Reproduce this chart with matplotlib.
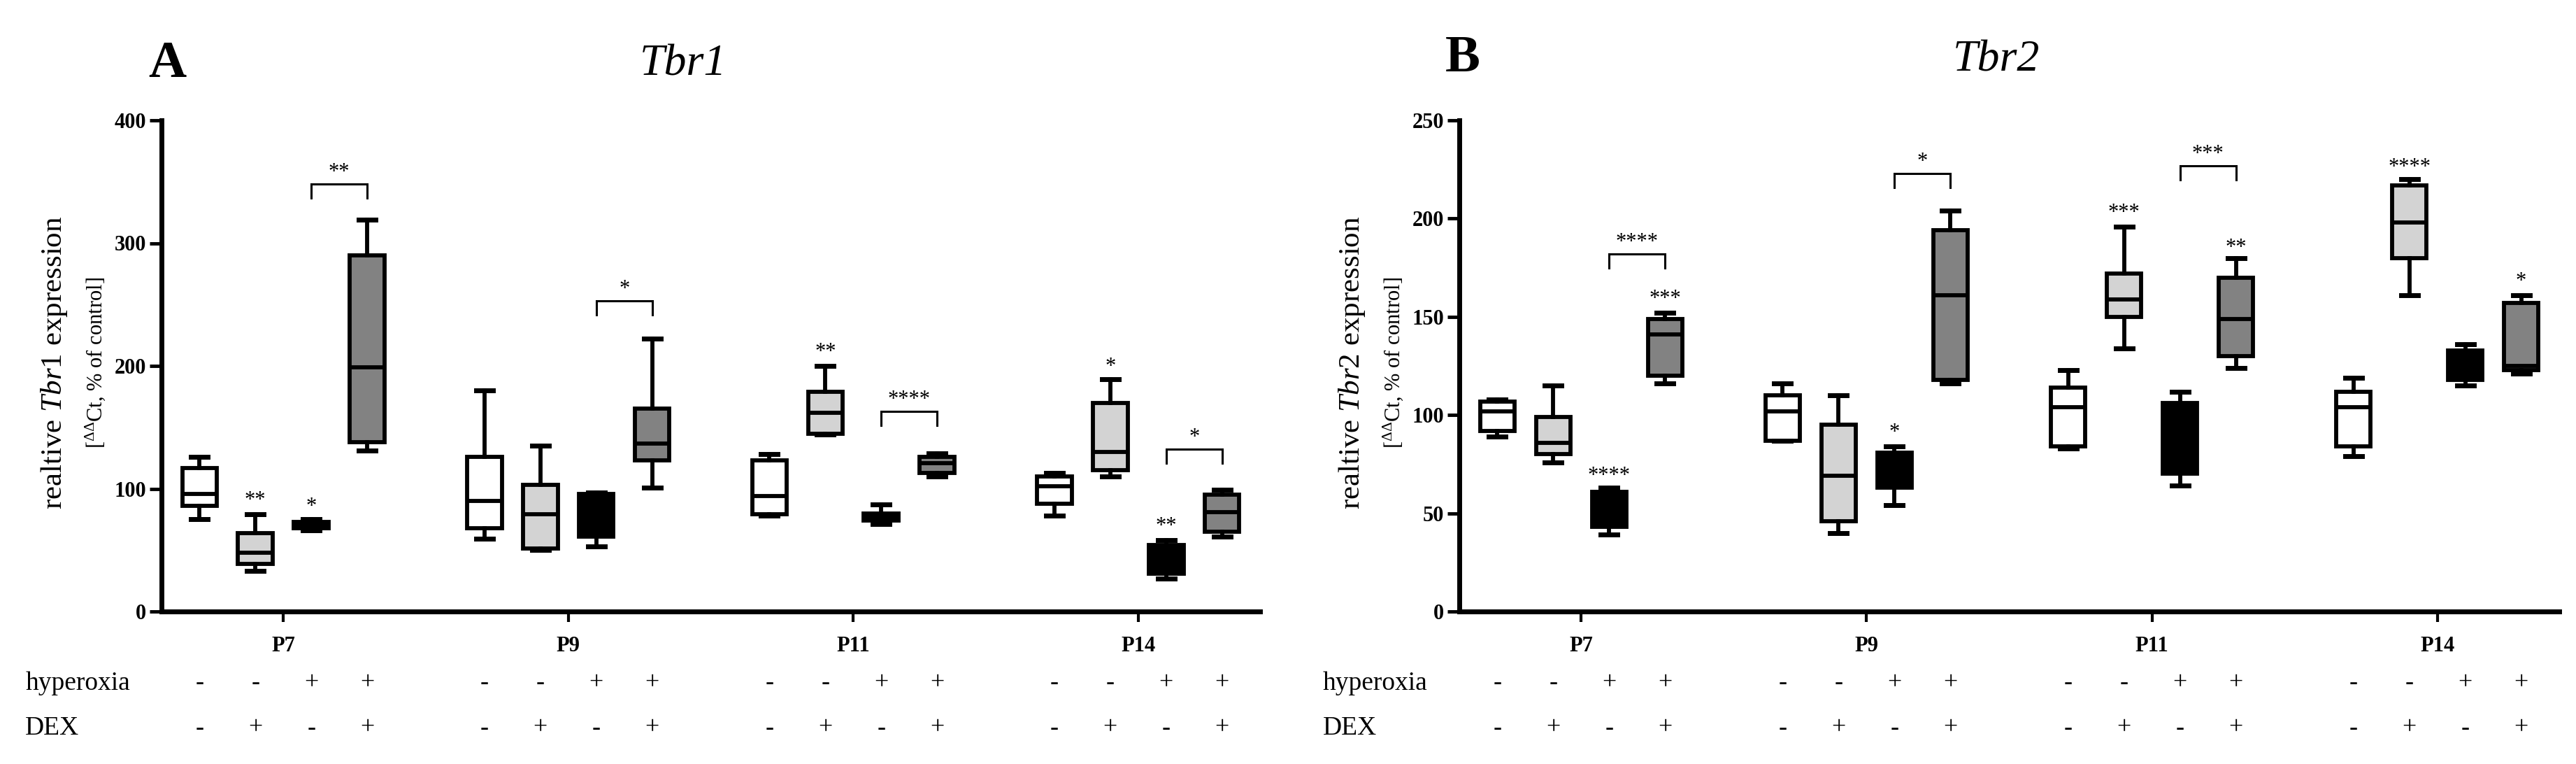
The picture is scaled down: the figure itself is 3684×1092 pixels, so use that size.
import matplotlib.pyplot as plt

plt.rcParams['font.family'] = ['Liberation Serif', 'DejaVu Serif']
plt.rcParams['mathtext.fontset'] = 'custom'
plt.rcParams['mathtext.rm'] = 'Liberation Serif'
plt.rcParams['mathtext.it'] = 'Liberation Serif:italic'
plt.rcParams['mathtext.bf'] = 'Liberation Serif:bold'

groups = ['P7', 'P9', 'P11', 'P14']
hyperoxia = ['-', '-', '+', '+']
dex = ['-', '+', '-', '+']
box_colors = ['white', '#d3d3d3', 'black', '#828282']

# per group: control, DEX, hyperoxia, hyperoxia + DEX
tbr1_low = [75, 33, 66, 131, 59, 50, 53, 101, 78, 144, 71, 110, 78, 110, 27, 61]
tbr1_q1 = [86, 39, 68, 138, 68, 51, 61, 123, 79, 145, 74, 113, 88, 115, 31, 65]
tbr1_med = [96, 48, 71, 199, 90, 79, 88, 137, 94, 162, 77, 121, 102, 130, 38, 81]
tbr1_q3 = [117, 64, 73, 290, 126, 103, 96, 165, 123, 179, 80, 126, 110, 170, 54, 95]
tbr1_high = [126, 79, 75, 319, 180, 135, 97, 222, 128, 200, 87, 129, 113, 189, 58, 99]

tbr2_low = [89, 76, 39, 116, 87, 40, 54, 116, 83, 134, 64, 124, 79, 161, 115, 121]
tbr2_q1 = [92, 80, 43, 120, 87, 46, 63, 118, 84, 150, 70, 130, 84, 180, 118, 123]
tbr2_med = [102, 86, 50, 141, 102, 69, 72, 161, 104, 159, 90, 149, 104, 198, 125, 125]
tbr2_q3 = [107, 99, 61, 149, 110, 95, 81, 194, 114, 172, 106, 170, 112, 217, 133, 157]
tbr2_high = [108, 115, 63, 152, 116, 110, 84, 204, 123, 196, 112, 180, 119, 220, 136, 161]

# significance marks: (group, box, text, value)
tbr1_stars = [(0, 1, '**', 95), (0, 2, '*', 90), (2, 1, '**', 216), (3, 1, '*', 204), (3, 2, '**', 74)]
tbr1_brackets = [(0, 2, 3, 348, '**'), (1, 2, 3, 253, '*'), (2, 2, 3, 163, '****'), (3, 2, 3, 132, '*')]
tbr2_stars = [(0, 2, '****', 72), (0, 3, '***', 162), (1, 2, '*', 94), (2, 1, '***', 206),
              (2, 3, '**', 188), (3, 1, '****', 229), (3, 3, '*', 171)]
tbr2_brackets = [(0, 2, 3, 182, '****'), (1, 2, 3, 223, '*'), (2, 2, 3, 227, '***')]

W, H = 3684, 1092
GAP = 5.1
fig = plt.figure(figsize=(W / 100, H / 100), dpi=100)


def add_axes_px(left, right, bottom, top):
    return fig.add_axes([left / W, 1 - bottom / H, (right - left) / W, (bottom - top) / H])


def draw_panel(ax, low, q1, med, q3, high, ymax, ystep, gene, stars, brackets):
    pos = [g * GAP + k for g in range(4) for k in range(4)]
    stats = [dict(whislo=a, q1=b, med=c, q3=d, whishi=e, fliers=[])
             for a, b, c, d, e in zip(low, q1, med, q3, high)]
    bp = ax.bxp(stats, positions=pos, widths=0.62, capwidths=0.3, showfliers=False,
                patch_artist=True,
                boxprops=dict(linewidth=4.2, edgecolor='black'),
                medianprops=dict(color='black', linewidth=4.2),
                whiskerprops=dict(color='black', linewidth=4.2),
                capprops=dict(color='black', linewidth=5))
    for patch, c in zip(bp['boxes'], box_colors * 4):
        patch.set_facecolor(c)

    ax.set_xlim(-0.68, 3 * GAP + 3 + 0.68)
    ax.set_ylim(0, ymax)
    ax.spines[['top', 'right']].set_visible(False)
    for s in ['left', 'bottom']:
        ax.spines[s].set_linewidth(5)
    ax.set_yticks(range(0, ymax + 1, ystep))
    ax.tick_params(axis='y', length=12, width=3.5, labelsize=22, pad=4)
    ax.set_xticks([g * GAP + 1.5 for g in range(4)])
    ax.set_xticklabels(groups)
    ax.tick_params(axis='x', length=11, width=3, labelsize=22, pad=14)
    for lab in ax.get_yticklabels() + ax.get_xticklabels():
        lab.set_fontweight('bold')

    trans = ax.get_xaxis_transform()
    for i, p in enumerate(pos):
        ax.text(p, -0.146, hyperoxia[i % 4], transform=trans, ha='center', va='center',
                fontsize=26, clip_on=False)
        ax.text(p, -0.238, dex[i % 4], transform=trans, ha='center', va='center',
                fontsize=26, clip_on=False)
    ax.text(-0.124, -0.146, 'hyperoxia', transform=ax.transAxes, ha='left', va='center', fontsize=27)
    ax.text(-0.124, -0.238, 'DEX', transform=ax.transAxes, ha='left', va='center', fontsize=27)

    ax.text(-0.0974, 0.506, r'realtive $\mathit{%s}$ expression' % gene, transform=ax.transAxes,
            rotation=90, ha='center', va='center', fontsize=31)
    ax.text(-0.0605, 0.506, r'[$^{\Delta\Delta}$Ct, % of control]', transform=ax.transAxes,
            rotation=90, ha='center', va='center', fontsize=22)

    for g, k, txt, v in stars:
        ax.annotate(txt, (g * GAP + k, v), xytext=(0, -11.5), textcoords='offset points',
                    ha='center', va='baseline', fontsize=22)
    leg = ymax * 20 / 701
    for g, k1, k2, top, txt in brackets:
        x1, x2 = g * GAP + k1, g * GAP + k2
        ax.plot([x1, x1, x2, x2], [top - leg, top, top, top - leg], color='black', lw=2.2,
                solid_joinstyle='miter', clip_on=False)
        ax.annotate(txt, ((x1 + x2) / 2, top), xytext=(0, 6.5), textcoords='offset points',
                    ha='center', va='baseline', fontsize=22)


ax1 = add_axes_px(231, 1802, 874, 172)
draw_panel(ax1, tbr1_low, tbr1_q1, tbr1_med, tbr1_q3, tbr1_high, 400, 100, 'Tbr1',
           tbr1_stars, tbr1_brackets)
ax2 = add_axes_px(2087, 3660, 874, 172)
draw_panel(ax2, tbr2_low, tbr2_q1, tbr2_med, tbr2_q3, tbr2_high, 250, 50, 'Tbr2',
           tbr2_stars, tbr2_brackets)

fig.text(239 / W, 1 - 110 / H, 'A', fontsize=54, fontweight='bold', ha='center', va='baseline')
fig.text(977 / W, 1 - 108 / H, 'Tbr1', fontsize=46, style='italic', ha='center', va='baseline')
fig.text(2092 / W, 1 - 102 / H, 'B', fontsize=54, fontweight='bold', ha='center', va='baseline')
fig.text(2855 / W, 1 - 102 / H, 'Tbr2', fontsize=46, style='italic', ha='center', va='baseline')

fig.savefig('out.png', dpi=100)
